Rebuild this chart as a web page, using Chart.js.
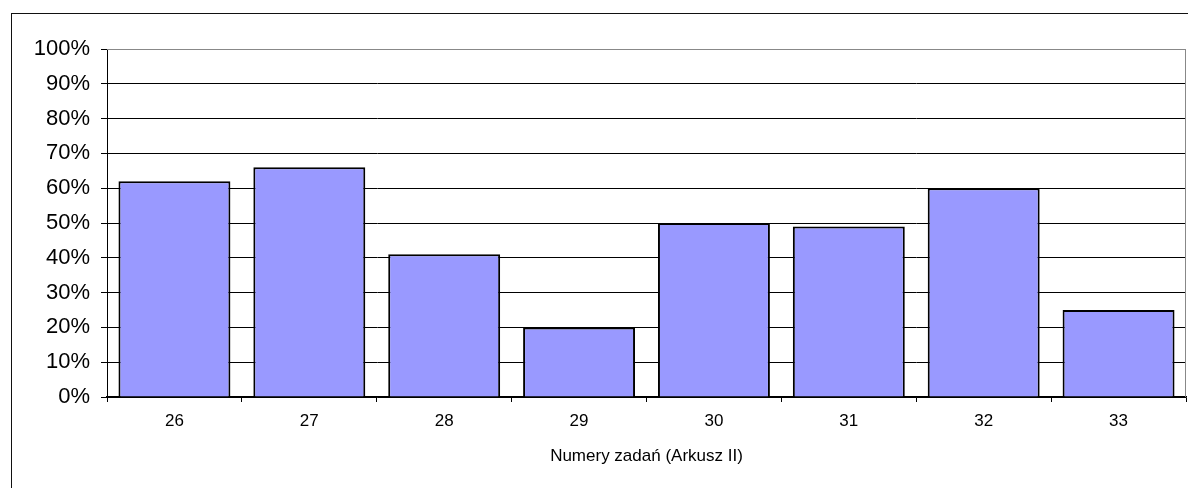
<!DOCTYPE html>
<html>
<head>
<meta charset="utf-8">
<script src="https://cdn.jsdelivr.net/npm/chart.js@4"></script>
<style>
  html, body { margin: 0; padding: 0; background: #fff; overflow: hidden; }
  #ramka { position: absolute; left: 11px; top: 13px; width: 1400px; height: 700px; border: 1.5px solid #111; }
  #wykres { position: absolute; left: 0; top: 0; }
</style>
</head>
<body>
<div id="ramka"></div>
<canvas id="wykres" width="1188" height="488"></canvas>
<script>
// numery zadań i odsetek poprawnych odpowiedzi
const zadania = ['26', '27', '28', '29', '30', '31', '32', '33'];
const wyniki = [62, 66, 41, 20, 50, 49, 60, 25];
const tytulOsiX = 'Numery zadań (Arkusz II)';

// szara ramka obszaru wykresu (góra i prawa strona)
const ramkaObszaru = {
    id: 'ramkaObszaru',
    afterDraw(chart) {
        const { ctx, chartArea: a } = chart;
        ctx.save();
        ctx.strokeStyle = '#888';
        ctx.lineWidth = 1;
        ctx.beginPath();
        ctx.moveTo(a.left, a.top + 0.5);
        ctx.lineTo(a.right - 0.5, a.top + 0.5);
        ctx.lineTo(a.right - 0.5, a.bottom);
        ctx.stroke();
        ctx.restore();
    }
};

new Chart(document.getElementById('wykres'), {
    type: 'bar',
    data: {
        labels: zadania,
        datasets: [{
            data: wyniki,
            backgroundColor: '#9999FF',
            borderColor: '#000',
            borderWidth: 2,
            barPercentage: 0.83,
            categoryPercentage: 1
        }]
    },
    options: {
        responsive: false,
        animation: false,
        layout: { padding: { top: 49, right: 2, bottom: 0, left: 0 } },
        plugins: {
            legend: { display: false },
            tooltip: { enabled: false }
        },
        scales: {
            x: {
                offset: true,
                afterFit: s => { s.height = 91; },
                border: { color: '#000', width: 1.5 },
                grid: { drawOnChartArea: false, drawTicks: true, tickLength: 5, color: '#000', offset: true },
                ticks: { color: '#000', padding: 9, font: { family: 'Liberation Sans', size: 17 } },
                title: {
                    display: true,
                    text: tytulOsiX,
                    color: '#000',
                    font: { family: 'Liberation Sans', size: 17 },
                    padding: { top: 0, bottom: 21 }
                }
            },
            y: {
                min: 0,
                max: 100,
                afterFit: s => { s.width = 107; },
                border: { color: '#000', width: 1 },
                grid: {
                    color: c => (c.tick && c.tick.value === 100 ? '#888' : '#000'),
                    tickColor: '#000',
                    tickLength: 6,
                    lineWidth: 1
                },
                ticks: {
                    stepSize: 10,
                    color: '#000',
                    padding: 11,
                    font: { family: 'Liberation Sans', size: 22 },
                    callback: v => v + '%'
                }
            }
        }
    },
    plugins: [ramkaObszaru]
});
</script>
</body>
</html>
